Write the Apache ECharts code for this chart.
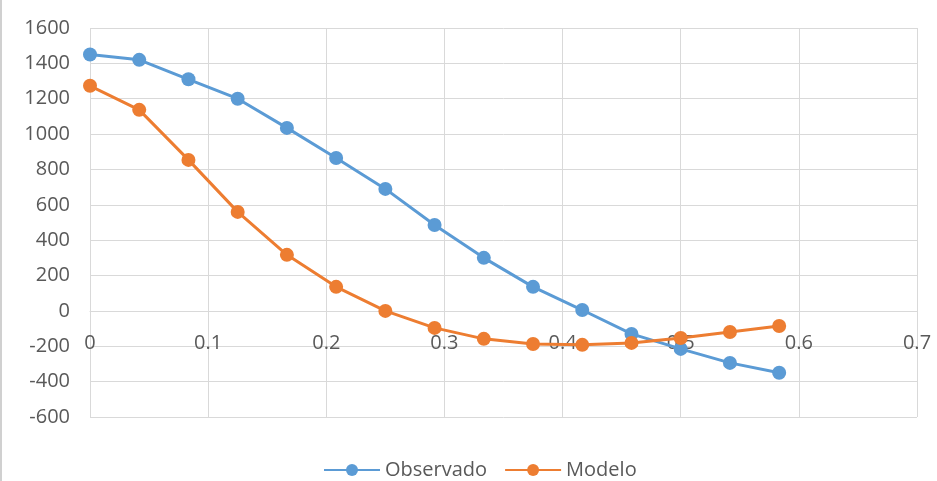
<!DOCTYPE html>
<html><head><meta charset="utf-8">
<script src="https://cdn.jsdelivr.net/npm/echarts@6/dist/echarts.min.js"></script>
<style>html,body{margin:0;padding:0;background:#fff}#c{width:937px;height:481px;box-sizing:border-box;border-left:2px solid #d0d0d0}</style>
</head><body><div id="c"></div>
<script>
const xValues = [0, 1/24, 2/24, 3/24, 4/24, 5/24, 6/24, 7/24, 8/24, 9/24, 10/24, 11/24, 12/24, 13/24, 14/24];
const observado = [1450, 1420, 1310, 1200, 1035, 865, 690, 486, 300, 136, 5, -130, -215, -294, -350];
const modelo = [1273, 1137, 854, 560, 317, 136, 0, -96, -158, -187, -192, -181, -153, -119, -85];
const seriesNames = ['Observado', 'Modelo'];
const colors = ['#5B9BD5', '#ED7D31'];

const chart = echarts.init(document.getElementById('c'));
const pair = arr => xValues.map((x, i) => [x, arr[i]]);
const txt = {color: '#595959', fontSize: 20, fontFamily: 'Open Sans, Liberation Sans, sans-serif'};
const option = {
  animation: false,
  color: colors,
  grid: {left: 88, right: 20, top: 28, bottom: 64},
  legend: {
    top: 455, left: 316, itemWidth: 56, itemHeight: 15, itemGap: 17,
    textStyle: {color: '#595959', fontSize: 20, fontFamily: 'Open Sans, Liberation Sans, sans-serif'},
    data: seriesNames
  },
  xAxis: {
    type: 'value', min: 0, max: 0.7, interval: 0.1,
    axisLine: {show: true, onZero: false, lineStyle: {color: '#d9d9d9'}},
    axisTick: {show: false},
    axisLabel: Object.assign({margin: 22, formatter: v => String(Math.round(v * 10) / 10)}, txt),
    splitLine: {show: true, lineStyle: {color: '#d9d9d9'}}
  },
  yAxis: {
    type: 'value', min: -600, max: 1600, interval: 200,
    axisLine: {show: false}, axisTick: {show: false},
    axisLabel: Object.assign({margin: 20, formatter: v => String(v)}, txt),
    splitLine: {lineStyle: {color: '#d9d9d9'}}
  },
  series: [
    {name: seriesNames[0], type: 'line', data: pair(observado), symbol: 'circle', symbolSize: 14,
     lineStyle: {width: 3}, itemStyle: {color: colors[0]}},
    {name: seriesNames[1], type: 'line', data: pair(modelo), symbol: 'circle', symbolSize: 14,
     lineStyle: {width: 3}, itemStyle: {color: colors[1]}}
  ]
};
chart.setOption(option);
// place the x axis on y = 0, using the library's own y scale
const yZero = chart.convertToPixel({yAxisIndex: 0}, 0);
const yMin = chart.convertToPixel({yAxisIndex: 0}, -600);
chart.setOption({xAxis: {offset: yZero - yMin}});
</script></body></html>
